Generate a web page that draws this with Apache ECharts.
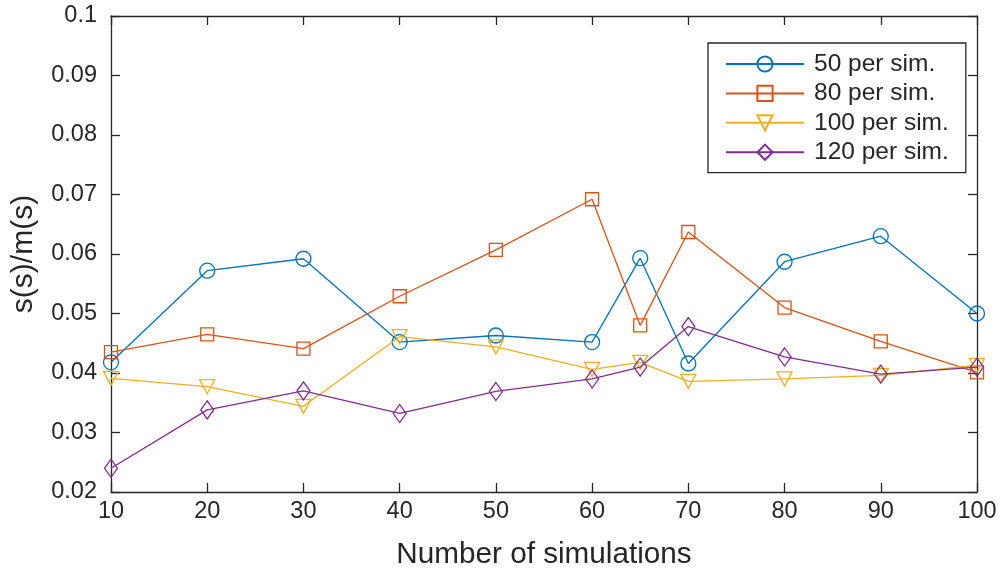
<!DOCTYPE html>
<html>
<head>
<meta charset="utf-8">
<script src="https://cdn.jsdelivr.net/npm/echarts@6/dist/echarts.min.js"></script>
<style>html,body{margin:0;padding:0;background:#fff;}#chart{width:1006px;height:572px;}</style>
</head>
<body>
<div id="chart"></div>
<script>
const xValues = [10, 20, 30, 40, 50, 60, 65, 70, 80, 90, 100];
const seriesNames = ['50 per sim.', '80 per sim.', '100 per sim.', '120 per sim.'];
const s50  = [0.0418, 0.0572, 0.0592, 0.0452, 0.0463, 0.0452, 0.0593, 0.0416, 0.0587, 0.0630, 0.0500];
const s80  = [0.0435, 0.0465, 0.0441, 0.0529, 0.0607, 0.0692, 0.0480, 0.0637, 0.0510, 0.0453, 0.0401];
const s100 = [0.0391, 0.0377, 0.0344, 0.0461, 0.0444, 0.0406, 0.0418, 0.0386, 0.0390, 0.0396, 0.0413];
const s120 = [0.0240, 0.0338, 0.0370, 0.0332, 0.0369, 0.0390, 0.0410, 0.0478, 0.0427, 0.0398, 0.0410];
const xTicks = [10, 20, 30, 40, 50, 60, 70, 80, 90, 100];
const yTicks = ['0.02', '0.03', '0.04', '0.05', '0.06', '0.07', '0.08', '0.09', '0.1'];

const colors = ['#0072BD', '#D95319', '#EDB120', '#7E2F8E'];
const symbols = ['circle', 'rect', 'path://M0,0 L10,0 L5,9 Z', 'diamond'];
const symbolSizes = [15, 13, [15, 14], [13, 18]];
const allData = [s50, s80, s100, s120];
const font = 'Liberation Sans, Arial, sans-serif';
const axisColor = '#262626';

const chart = echarts.init(document.getElementById('chart'), null, {renderer: 'canvas'});

const series = allData.map((arr, i) => ({
  name: seriesNames[i],
  type: 'line',
  data: arr.map((v, k) => [xValues[k], v]),
  symbol: symbols[i],
  symbolSize: symbolSizes[i],
  showAllSymbol: true,
  lineStyle: {color: colors[i], width: 1.3},
  itemStyle: {color: 'rgba(255,255,255,0)', borderColor: colors[i], borderWidth: 1.3},
  emphasis: {disabled: true},
  z: 2 + i,
  animation: false
}));

const baseX = {
  type: 'value', min: 10, max: 100, interval: 10,
  axisLine: {show: true, lineStyle: {color: axisColor, width: 1.3}},
  axisTick: {show: true, inside: true, length: 9, lineStyle: {color: axisColor, width: 1.3}},
  splitLine: {show: false}
};
const baseY = {
  type: 'value', min: 0.02, max: 0.1, interval: 0.01,
  axisLine: {show: true, lineStyle: {color: axisColor, width: 1.3}},
  axisTick: {show: true, inside: true, length: 9, lineStyle: {color: axisColor, width: 1.3}},
  splitLine: {show: false}
};

chart.setOption({
  backgroundColor: '#ffffff',
  animation: false,
  grid: {left: 111, right: 29, top: 16, bottom: 80, containLabel: false, outerBoundsMode: 'none'},
  xAxis: [
    Object.assign({}, baseX, {
      position: 'bottom',
      name: 'Number of simulations',
      nameLocation: 'middle',
      nameGap: 48,
      nameTextStyle: {fontFamily: font, fontSize: 29.7, color: axisColor},
      axisLabel: {show: true, margin: 8, fontFamily: font, fontSize: 23.5, color: axisColor,
        formatter: v => xTicks.includes(v) ? String(v) : ''}
    }),
    Object.assign({}, baseX, {position: 'top', axisLabel: {show: false}})
  ],
  yAxis: [
    Object.assign({}, baseY, {
      position: 'left',
      name: 's(s)/m(s)',
      nameLocation: 'middle',
      nameGap: 72,
      nameTextStyle: {fontFamily: font, fontSize: 30, color: axisColor},
      axisLabel: {show: true, margin: 14, fontFamily: font, fontSize: 23.5, color: axisColor,
        formatter: v => yTicks[Math.round((v - 0.02) / 0.01)] || ''}
    }),
    Object.assign({}, baseY, {position: 'right', axisLabel: {show: false}})
  ],
  legend: {
    show: true,
    orient: 'vertical',
    left: 708,
    top: 43,
    padding: [8.5, 17, 8, 17],
    itemWidth: 78,
    itemHeight: 19,
    itemGap: 4.4,
    backgroundColor: '#ffffff',
    borderColor: axisColor,
    borderWidth: 1.3,
    borderRadius: 0,
    textStyle: {fontFamily: font, fontSize: 24.5, color: axisColor, lineHeight: 24, padding: [0, 0, 0, 5]},
    data: seriesNames.map((n, i) => ({name: n}))
  },
  series: series
});
</script>
</body>
</html>
